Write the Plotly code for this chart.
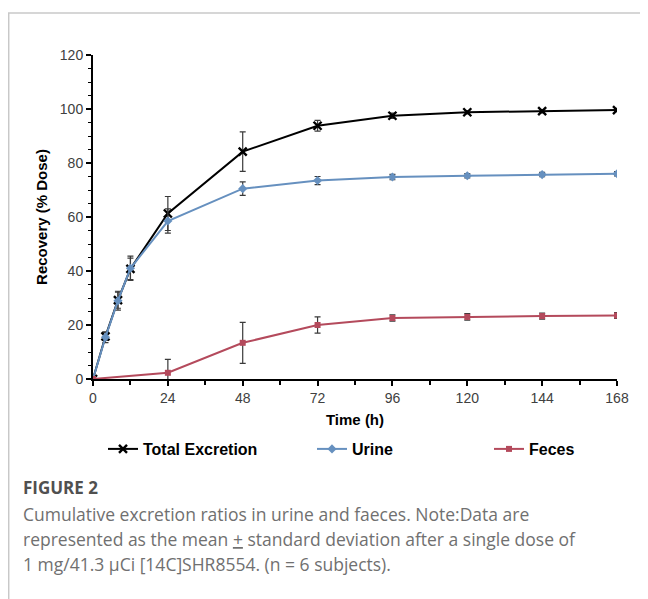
import plotly.graph_objects as go

# ---- data ----
time_all = [0, 4, 8, 12, 24, 48, 72, 96, 120, 144, 168]
total = [0, 15.8, 29.2, 40.8, 61.3, 84.2, 93.8, 97.5, 98.8, 99.2, 99.6]
total_sd = [0, 1.5, 3.0, 4.0, 6.3, 7.3, 2.0, 1.0, 0.6, 0.6, 0.6]
urine = [0, 15.5, 29.0, 41.0, 58.5, 70.5, 73.5, 74.8, 75.3, 75.7, 76.0]
urine_sd = [0, 2.0, 3.5, 4.5, 4.5, 2.5, 1.5, 1.0, 0.8, 0.8, 0.8]
time_feces = [0, 24, 48, 72, 96, 120, 144, 168]
feces = [0, 2.3, 13.4, 20.0, 22.6, 23.0, 23.3, 23.5]
feces_sd = [0, 5.0, 7.6, 3.0, 1.2, 1.2, 1.1, 1.1]

x_ticks = [0, 24, 48, 72, 96, 120, 144, 168]
y_ticks = [0, 20, 40, 60, 80, 100, 120]

# ---- layout geometry (pixels, page offset by body margin of 8px) ----
OFF = 8
W, H = 648 - OFF, 599 - OFF
# plot area in reference coordinates: x 93..617, y 55..379
L = 93 - OFF
T = 55 - OFF
R = W - (617 - OFF)
B = H - (379 - OFF)
PW = W - L - R
PH = H - T - B


def px(xp):
    return (xp - OFF - L) / PW


def py(yp):
    return (H - B - (yp - OFF)) / PH


err_col = "#3a3a3a"
blue = "#6690bf"
red = "#b44a5c"

fig = go.Figure()
fig.add_trace(go.Scatter(
    x=time_all, y=total, name="Total Excretion", mode="lines+markers",
    line=dict(color="black", width=2),
    marker=dict(symbol="x-thin", size=8, line=dict(color="black", width=2.4)),
    error_y=dict(type="data", array=total_sd, color=err_col, thickness=1.2, width=3),
    legend="legend",
))
fig.add_trace(go.Scatter(
    x=time_all, y=urine, name="Urine", mode="lines+markers",
    line=dict(color=blue, width=2),
    marker=dict(symbol="diamond", size=7, color=blue),
    error_y=dict(type="data", array=urine_sd, color=err_col, thickness=1.2, width=3),
    legend="legend2",
))
fig.add_trace(go.Scatter(
    x=time_feces, y=feces, name="Feces", mode="lines+markers",
    line=dict(color=red, width=2),
    marker=dict(symbol="square", size=6, color=red),
    error_y=dict(type="data", array=feces_sd, color=err_col, thickness=1.2, width=3),
    legend="legend3",
))

tick_font = dict(family="Liberation Sans, Arial", size=14, color="#404040")
title_font = dict(family="Liberation Sans, Arial", size=15, color="black", weight="bold")
leg_font = dict(family="Liberation Sans, Arial", size=16, color="black", weight="bold")

fig.update_xaxes(
    range=[0, 168], tickvals=x_ticks, ticks="outside", ticklen=5, tickwidth=1.5,
    tickcolor="black", showline=True, linecolor="black", linewidth=2,
    showgrid=False, zeroline=False, tickfont=tick_font,
    minor=dict(dtick=12, ticks="outside", ticklen=4, tickwidth=1.5, tickcolor="black"),
    title=dict(text="Time (h)", font=title_font, standoff=10),
)
fig.update_yaxes(
    range=[0, 120], tickvals=y_ticks, ticks="outside", ticklen=5, tickwidth=1.5,
    tickcolor="black", showline=True, linecolor="black", linewidth=2,
    showgrid=False, zeroline=False, tickfont=tick_font,
    minor=dict(dtick=5, ticks="outside", ticklen=3, tickwidth=1.2, tickcolor="black"),
    title=dict(text="Recovery (% Dose)", font=title_font, standoff=9),
)

leg_common = dict(orientation="h", yanchor="middle", y=py(449), xanchor="left",
                  font=leg_font, bgcolor="rgba(0,0,0,0)", itemwidth=30)
fig.update_layout(
    width=W, height=H,
    margin=dict(l=L, r=R, t=T, b=B),
    paper_bgcolor="white", plot_bgcolor="white",
    legend=dict(x=px(103), **leg_common),
    legend2=dict(x=px(312), **leg_common),
    legend3=dict(x=px(489), **leg_common),
    showlegend=True,
)

# card border
fig.add_shape(type="line", xref="paper", yref="paper", x0=px(8), x1=px(648),
              y0=py(13), y1=py(13), line=dict(color="#c8c8c8", width=1.5))
fig.add_shape(type="line", xref="paper", yref="paper", x0=px(8.7), x1=px(8.7),
              y0=py(13), y1=py(599), line=dict(color="#c8c8c8", width=1.5))

cap_font = "Open Sans, Lato, sans-serif"
fig.add_annotation(xref="paper", yref="paper", x=px(21), y=py(487), xanchor="left",
                   yanchor="middle", showarrow=False, text="FIGURE 2",
                   font=dict(family=cap_font, size=17, color="#505050", weight="bold"))
cap_lines = [
    "Cumulative excretion ratios in urine and faeces. Note:Data are",
    "represented as the mean <u>+</u> standard deviation after a single dose of",
    "1 mg/41.3 μCi [14C]SHR8554. (n = 6 subjects).",
]
for i, line in enumerate(cap_lines):
    fig.add_annotation(xref="paper", yref="paper", x=px(21), y=py(514 + 25 * i),
                       xanchor="left", yanchor="middle", showarrow=False, text=line,
                       font=dict(family=cap_font, size=17.5, color="#707070"))

fig.write_html("out.html")
